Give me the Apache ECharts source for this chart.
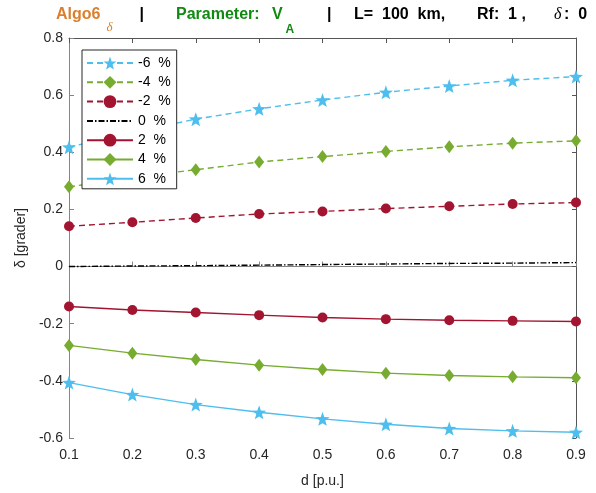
<!DOCTYPE html>
<html>
<head>
<meta charset="utf-8">
<script src="https://cdn.jsdelivr.net/npm/echarts@6/dist/echarts.min.js"></script>
<style>
  html, body { margin: 0; padding: 0; background: #fff; }
  #chart { width: 596px; height: 493px; }
</style>
</head>
<body>
<div id="chart"></div>
<script>
// Distance along the line, per unit
const dValues = [0.1, 0.2, 0.3, 0.4, 0.5, 0.6, 0.7, 0.8, 0.9];

// Angle error δ [grader] for each parameter deviation
const devMinus6 = [0.418, 0.470, 0.516, 0.552, 0.583, 0.610, 0.632, 0.652, 0.665];
const devMinus4 = [0.279, 0.312, 0.339, 0.366, 0.385, 0.403, 0.419, 0.432, 0.440];
const devMinus2 = [0.141, 0.155, 0.170, 0.184, 0.193, 0.203, 0.211, 0.219, 0.224];
const dev0      = [0.000, 0.002, 0.003, 0.005, 0.007, 0.009, 0.011, 0.012, 0.014];
const devPlus2  = [-0.140, -0.152, -0.161, -0.170, -0.178, -0.184, -0.188, -0.190, -0.192];
const devPlus4  = [-0.276, -0.303, -0.325, -0.345, -0.360, -0.373, -0.381, -0.386, -0.389];
const devPlus6  = [-0.406, -0.448, -0.483, -0.510, -0.533, -0.552, -0.567, -0.575, -0.580];

const seriesNames = ['-6  %', '-4  %', '-2  %', '0  %', '2  %', '4  %', '6  %'];

const BLUE = '#4DBEEE';
const GREEN = '#77AC30';
const RED = '#A2142F';
const STAR = 'path://M0,-10L2.35,-3.24L9.51,-3.09L3.8,1.24L5.88,8.09L0,4.6L-5.88,8.09L-3.8,1.24L-9.51,-3.09L-2.35,-3.24Z';

const FONT = '"Liberation Sans", Arial, Helvetica, sans-serif';
const SERIF = '"Liberation Serif", "Times New Roman", serif';

function pairs(vals) {
  return dValues.map((d, i) => [d, vals[i]]);
}

function lineSeries(name, vals, color, dash, symbol, size) {
  const plain = symbol === 'none';
  return {
    name: name,
    type: 'line',
    data: pairs(vals),
    xAxisIndex: 0,
    yAxisIndex: 0,
    symbol: plain ? 'circle' : symbol,
    symbolSize: plain ? 0 : size,
    showSymbol: !plain,
    animation: false,
    lineStyle: { color: color, width: 1.4, type: dash },
    // the plain reference line keeps an invisible marker so its legend key is a bare line
    itemStyle: { color: plain ? 'rgba(0,0,0,0)' : color, borderWidth: 0 },
    emphasis: { disabled: true },
    z: 3
  };
}

const series = [
  lineSeries(seriesNames[0], devMinus6, BLUE, [6, 4], STAR, 14),
  lineSeries(seriesNames[1], devMinus4, GREEN, [6, 4], 'diamond', [10, 13]),
  lineSeries(seriesNames[2], devMinus2, RED, [6, 4], 'circle', 10),
  lineSeries(seriesNames[3], dev0, '#000000', [6, 2, 1.5, 2], 'none', 0),
  lineSeries(seriesNames[4], devPlus2, RED, 'solid', 'circle', 10),
  lineSeries(seriesNames[5], devPlus4, GREEN, 'solid', 'diamond', [10, 13]),
  lineSeries(seriesNames[6], devPlus6, BLUE, 'solid', STAR, 14)
];

const tickLabel = { color: '#262626', fontSize: 14, fontFamily: FONT };

const chart = echarts.init(document.getElementById('chart'), null, { renderer: 'canvas' });

chart.setOption({
  backgroundColor: '#ffffff',
  animation: false,
  grid: { left: 69, right: 20, top: 38, bottom: 54, containLabel: false },
  xAxis: [
    {
      type: 'value', position: 'bottom', min: 0.1, max: 0.9, interval: 0.1,
      name: 'd [p.u.]', nameLocation: 'middle', nameGap: 36,
      nameTextStyle: { color: '#262626', fontSize: 14, fontFamily: FONT },
      axisLine: { show: true, lineStyle: { color: '#858585', width: 1 } },
      axisTick: { show: true, inside: true, length: 5, lineStyle: { color: '#858585' } },
      axisLabel: Object.assign({ margin: 10, formatter: v => v.toFixed(1) }, tickLabel),
      splitLine: { show: false }
    },
    {
      type: 'value', position: 'top', min: 0.1, max: 0.9, interval: 0.1,
      axisLine: { show: true, onZero: false, lineStyle: { color: '#555555', width: 1 } },
      axisTick: { show: true, inside: true, length: 5, lineStyle: { color: '#555555' } },
      axisLabel: { show: false },
      splitLine: { show: false }
    }
  ],
  yAxis: [
    {
      type: 'value', position: 'left', min: -0.6, max: 0.8, interval: 0.2,
      name: 'δ [grader]', nameLocation: 'middle', nameGap: 33,
      nameTextStyle: { color: '#262626', fontSize: 14, fontFamily: FONT },
      axisLine: { show: true, onZero: false, lineStyle: { color: '#858585', width: 1 } },
      axisTick: { show: true, inside: true, length: 5, lineStyle: { color: '#858585' } },
      axisLabel: Object.assign({
        margin: 6,
        formatter: v => (Math.abs(v) < 1e-9 ? '0' : (Math.round(v * 10) / 10).toString())
      }, tickLabel),
      splitLine: { show: false }
    },
    {
      type: 'value', position: 'right', min: -0.6, max: 0.8, interval: 0.2,
      axisLine: { show: true, onZero: false, lineStyle: { color: '#555555', width: 1 } },
      axisTick: { show: true, inside: true, length: 4, lineStyle: { color: '#555555' } },
      axisLabel: { show: false },
      splitLine: { show: false }
    }
  ],
  legend: {
    data: seriesNames,
    orient: 'vertical',
    left: 82,
    top: 50,
    itemWidth: 46,
    itemHeight: 16,
    itemGap: 5.3,
    padding: [6, 6, 3, 4],
    backgroundColor: '#ffffff',
    borderColor: '#262626',
    borderWidth: 1,
    borderRadius: 0,
    selectedMode: false,
    textStyle: { color: '#000000', fontSize: 14, fontFamily: FONT, padding: [0, 0, 0, 0] },
    z: 10
  },
  graphic: [
    { type: 'text', left: 56, top: 7, style: { text: 'Algo6', fill: '#D9802F', font: 'bold 16px ' + FONT } },
    { type: 'text', left: 106.5, top: 21, style: { text: 'δ', fill: '#D9802F', font: 'italic 13px ' + SERIF } },
    { type: 'text', left: 139.5, top: 7, style: { text: '|', fill: '#000', font: 'bold 16px ' + FONT } },
    { type: 'text', left: 176, top: 7, style: { text: 'Parameter:', fill: '#118A11', font: 'bold 16px ' + FONT } },
    { type: 'text', left: 272, top: 7, style: { text: 'V', fill: '#118A11', font: 'bold 16px ' + FONT } },
    { type: 'text', left: 285.5, top: 23.5, style: { text: 'A', fill: '#118A11', font: 'bold 12px ' + FONT } },
    { type: 'text', left: 327, top: 7, style: { text: '|', fill: '#000', font: 'bold 16px ' + FONT } },
    { type: 'text', left: 354, top: 7, style: { text: 'L=  100  km,', fill: '#000', font: 'bold 16px ' + FONT } },
    { type: 'text', left: 477, top: 7, style: { text: 'Rf:  1 ,', fill: '#000', font: 'bold 16px ' + FONT } },
    { type: 'text', left: 554, top: 7, style: { text: 'δ', fill: '#000', font: 'italic 16px ' + SERIF } },
    { type: 'text', left: 564, top: 7, style: { text: ':  0', fill: '#000', font: 'bold 16px ' + FONT } }
  ],
  series: series
});
</script>
</body>
</html>
